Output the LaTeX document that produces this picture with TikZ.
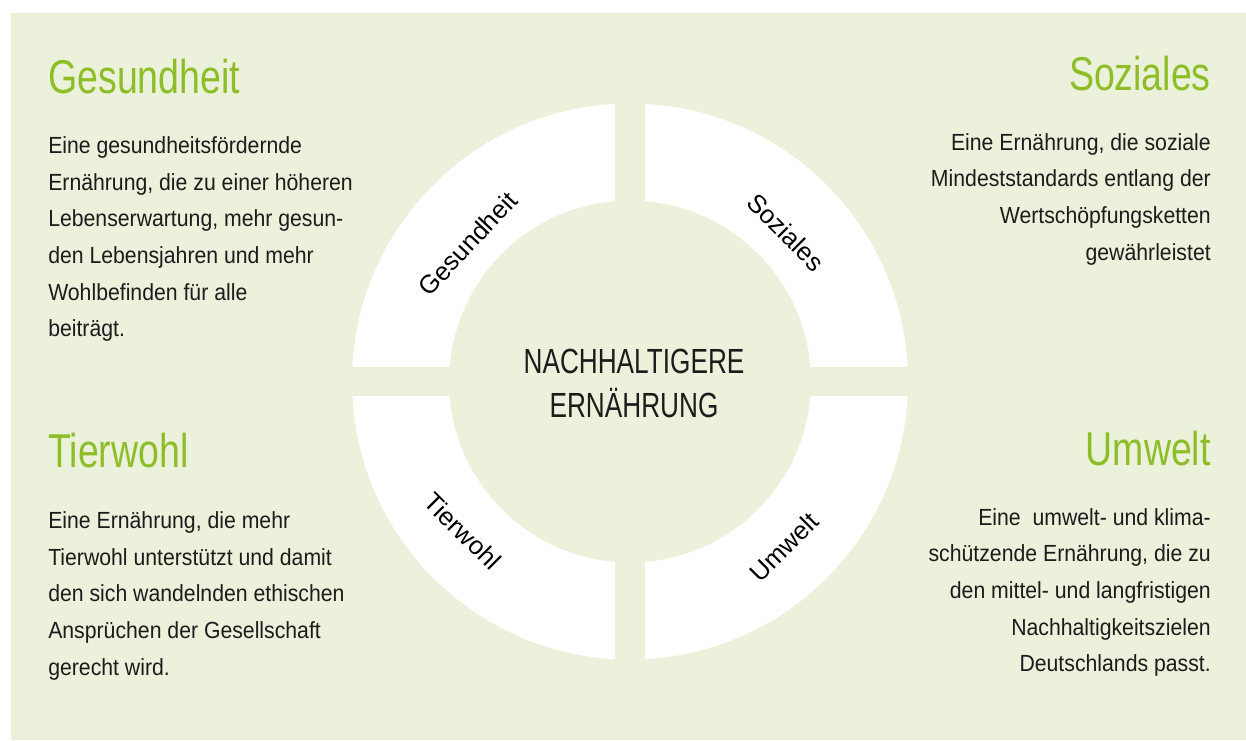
\documentclass[tikz,border=0pt]{standalone}
\usepackage{xcolor}
\usepackage{fontspec}
\setmainfont{Liberation Sans}
\newfontfamily\bodyfont[FakeStretch=0.91]{Liberation Sans}
\newfontfamily\headfont[FakeStretch=0.79]{Liberation Sans}
\newfontfamily\titlefont[FakeStretch=0.75]{Liberation Sans}
\definecolor{paleleaf}{RGB}{236,241,219}
\definecolor{leafgreen}{RGB}{141,190,40}
\definecolor{inkblack}{RGB}{28,28,28}

\begin{document}
\begin{tikzpicture}[x=0.75pt,y=0.75pt,yscale=-1,xscale=1,
  heading/.style={inner sep=0pt, text=leafgreen, font=\headfont\fontsize{35.6}{40}\selectfont},
  blurb/.style={inner sep=0pt, text=inkblack, font=\bodyfont\fontsize{17.5}{27.5}\selectfont},
  ringlabel/.style={inner sep=0pt, text=black, font=\fontsize{19.2}{22}\selectfont},
  quarter/.style={fill=white, even odd rule}]
\useasboundingbox (0,0) rectangle (1246,740);

%Shape: Rectangle (page + panel)
\fill [white] (0,0) rectangle (1246,740);
\fill [paleleaf] (11,13) rectangle (1246,740);

%Shape: Ring cut into four quarters
\coordinate (hub) at (630,381.5);
\foreach \sx/\sy in {1/1,-1/1,-1/-1,1/-1}{
  \begin{scope}
    \clip ([shift={(\sx*15,\sy*15)}]hub) rectangle ([shift={(\sx*300,\sy*300)}]hub);
    \fill [quarter] (hub) circle (278) (hub) circle (181);
  \end{scope}
}

% Text Node -- ring labels
\node [ringlabel, rotate=47] (ringGes) at (467.6,243.5) {Gesundheit};
\node [ringlabel, rotate=-45] (ringSoz) at (785.8,232.4) {Soziales};
\node [ringlabel, rotate=-45] (ringTier) at (462.8,531) {Tierwohl};
\node [ringlabel, rotate=45] (ringUmw) at (784,547) {Umwelt};

% Text Node -- centre (placed by the baseline of its last line)
\node [inner sep=0pt, anchor=base, align=center, text=inkblack,
  font=\titlefont\fontsize{26.2}{33}\selectfont] (title) at (634,417.3) {NACHHALTIGERE\\ERNÄHRUNG};

% Text Node -- top left
\node [heading, anchor=base west] (headGes) at (48,93) {Gesundheit};
\node [blurb, anchor=base west, align=left] (textGes) at (48,336.7) {Eine gesundheitsfördernde\\Ernährung, die zu einer höheren\\Lebenserwartung, mehr gesun-\\den Lebensjahren und mehr\\Wohlbefinden für alle\\beiträgt.};

% Text Node -- top right
\node [heading, anchor=base east] (headSoz) at (1211,90) {Soziales};
\node [blurb, anchor=base east, align=right] (textSoz) at (1211,260) {Eine Ernährung, die soziale\\Mindeststandards entlang der\\Wertschöpfungsketten\\gewährleistet};

% Text Node -- bottom left
\node [heading, anchor=base west] (headTier) at (48,467) {Tierwohl};
\node [blurb, anchor=base west, align=left] (textTier) at (48,675) {Eine Ernährung, die mehr\\Tierwohl unterstützt und damit\\den sich wandelnden ethischen\\Ansprüchen der Gesellschaft\\gerecht wird.};

% Text Node -- bottom right
\node [heading, anchor=base east] (headUmw) at (1211,465) {Umwelt};
\node [blurb, anchor=base east, align=right] (textUmw) at (1211,671.7) {Eine~ umwelt- und klima-\\schützende Ernährung, die zu\\den mittel- und langfristigen\\Nachhaltigkeitszielen\\Deutschlands passt.};

\end{tikzpicture}
\end{document}
